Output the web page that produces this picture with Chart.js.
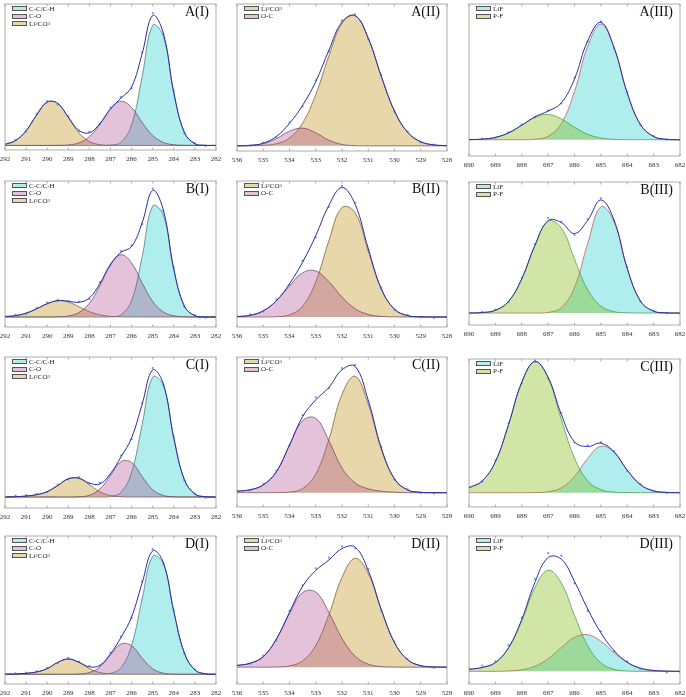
<!DOCTYPE html>
<html>
<head>
<meta charset="utf-8">
<script src="https://cdn.jsdelivr.net/npm/chart.js@4.4.0/dist/chart.umd.min.js"></script>
<style>
  body { margin: 0; background: #fff; width: 686px; height: 697px; position: relative; overflow: hidden;
         font-family: "Liberation Serif", "Times New Roman", serif; }
  canvas { position: absolute; }
  .legend { position: absolute; font-size: 7px; color: #222; }
  .legend .row { display: flex; align-items: center; height: 7.6px; white-space: nowrap; }
  .legend .sw { width: 15px; height: 5px; border: 0.6px solid #555; margin-right: 2px; box-sizing: border-box; }
  .legend sub { font-size: 5px; vertical-align: -1.5px; line-height: 0; }
  .tag { position: absolute; font-size: 14px; color: #111; white-space: nowrap; }
</style>
</head>
<body>
<script>
/* ENERGY GRIDS (eV) */
const eC = [292,291.5,291,290.5,290,289.5,289,288.5,288,287.5,287,286.5,286,285.5,285,284.5,284,283.5,283,282.5,282];
const eO = [536,535.5,535,534.5,534,533.5,533,532.5,532,531.5,531,530.5,530,529.5,529,528.5,528];
const eF = [690,689.5,689,688.5,688,687.5,687,686.5,686,685.5,685,684.5,684,683.5,683,682.5,682];

/* A(I) C 1s */
const aI_CC  = [0,0,0,0,0,0,0,0,0,0,0.3,3.3,21.1,70.7,123.4,112.6,53.7,13.4,1.7,0.1,0];
const aI_CO  = [0,0,0,0,0,0.1,0.5,2.6,9.0,21.7,37.3,45.3,38.9,23.6,10.2,3.1,0.7,0.1,0,0,0];
const aI_Li  = [1.1,5.0,15.1,31.3,44.5,43.1,28.6,12.9,4.0,0.8,0.1,0,0,0,0,0,0,0,0,0,0];
const aI_env = [1.1,5.0,15.1,31.3,44.5,43.2,29.1,15.5,13.0,22.5,37.7,48.6,60.0,94.3,133.6,115.7,54.4,13.5,1.7,0.1,0];
const aI_dat = [0.4,5.6,14.2,32.5,45.6,42.1,30.0,14.8,13.9,21.6,38.9,49.8,58.6,95.7,135.9,114.6,55.8,12.4,2.5,-0.6,-0.3];

/* A(II) O 1s */
const aII_Li  = [0,0.1,0.5,2.2,8.1,23.4,52.7,92.3,125.8,133.6,110.5,71.1,35.7,13.9,4.2,1.0,0.2];
const aII_OC  = [0,0.4,2.2,7.4,15.0,18.2,13.3,5.8,1.5,0.2,0,0,0,0,0,0,0];
const aII_env = [0,0.5,2.7,9.6,23.1,41.6,66.0,98.1,127.3,133.8,110.5,71.1,35.7,13.9,4.2,1.0,0.2];
const aII_dat = [0.6,0.2,3.4,9.1,24.0,40.5,67.2,97.0,128.9,135.1,109.6,72.3,34.8,14.6,3.5,1.4,-0.4];

/* A(III) F 1s */
const aIII_LiF = [0,0,0,0,0,0.5,3.5,16.5,49.6,95.9,118.7,94.2,47.9,15.6,3.3,0.4,0];
const aIII_PF  = [0.1,0.6,2.4,7.0,14.9,23.0,25.9,21.3,12.8,5.6,1.8,0.4,0.1,0,0,0,0];
const aIII_env = [0.1,0.6,2.4,7.0,14.9,23.5,29.4,37.8,62.4,101.5,120.5,94.6,48.0,15.6,3.3,0.4,0];
const aIII_dat = [0.3,1.1,2.0,7.8,15.6,22.9,30.2,37.1,63.5,100.8,121.4,93.9,48.7,15.0,3.8,0.1,-0.2];

/* B(I) */
const bI_CC  = [0,0,0,0,0,0,0,0,0,0,0.2,2.3,16.8,61.9,114.1,105.0,48.2,11.1,1.3,0.1,0];
const bI_CO  = [0,0,0,0,0,0.2,1.0,4.5,14.1,32.3,53.4,64.0,55.5,34.9,15.9,5.2,1.2,0.2,0,0,0];
const bI_Li  = [0.4,1.4,3.9,8.4,13.6,16.6,15.3,10.6,5.5,2.2,0.6,0.1,0,0,0,0,0,0,0,0,0];
const bI_env = [0.4,1.4,3.9,8.4,13.6,16.8,16.3,15.1,19.6,34.5,54.2,66.4,72.3,96.8,130.0,110.2,49.4,11.3,1.3,0.1,0];
const bI_dat = [0.9,2.3,3.1,9.5,14.7,17.6,16.0,15.9,18.4,35.8,53.1,68.0,73.5,95.6,131.8,109.1,50.6,10.4,2.0,-0.8,-0.5];

/* B(II) */
const bII_Li  = [0,0,0,0.3,2.2,11.0,36.2,78.4,112.6,107.2,67.7,28.3,7.9,1.4,0.2,0,0];
const bII_OC  = [0.4,1.7,6.3,16.5,31.9,45.4,47.3,36.3,20.4,8.5,2.6,0.6,0.1,0,0,0,0];
const bII_env = [0.4,1.7,6.3,16.8,34.1,56.4,83.5,114.7,133.0,115.7,70.3,28.9,8.0,1.4,0.2,0,0];
const bII_dat = [1.2,2.6,5.5,17.9,33.0,57.8,82.1,113.2,134.6,117.3,69.0,29.8,7.1,1.9,-0.5,-0.9,-0.2];

/* B(III) */
const bIII_LiF = [0,0,0,0,0,0,0.6,5.5,26.3,71.4,109.2,94.0,45.6,12.4,1.9,0.2,0];
const bIII_PF  = [0,0.5,2.8,12.0,35.1,69.6,94.4,87.5,55.4,23.9,7.1,1.4,0.2,0,0,0,0];
const bIII_env = [0,0.5,2.8,12.0,35.1,69.6,95.0,93.0,81.7,95.3,116.3,95.4,45.8,12.4,1.9,0.2,0];
const bIII_dat = [-0.8,1.2,3.5,11.2,36.0,70.8,97.9,94.1,80.2,96.4,118.0,94.5,46.9,11.8,2.4,-0.3,-0.6];

/* C(I) */
const cI_CC  = [0,0,0,0,0,0,0,0,0,0,0.5,4.8,25.2,74.3,123.1,114.9,60.4,17.9,3.0,0.3,0];
const cI_CO  = [0,0,0,0,0,0,0,0.2,1.8,8.2,22.2,36.3,35.5,20.9,7.4,1.6,0.2,0,0,0,0];
const cI_Li  = [0,0.3,1.0,2.4,5.5,11.8,18.7,19.1,12.5,5.2,1.4,0.2,0,0,0,0,0,0,0,0,0];
const cI_env = [0,0.3,1.0,2.4,5.5,11.8,18.7,19.3,14.3,13.4,24.1,41.3,60.7,95.2,130.5,116.5,60.6,17.9,3.0,0.3,0];
const cI_dat = [0.6,1.4,1.9,3.3,5.0,12.7,18.1,20.4,13.6,14.5,23.2,42.6,59.5,96.4,132.3,115.4,61.5,17.0,3.6,-0.9,-0.4];

/* C(II) */
const cII_Li  = [0,0,0,0.1,0.6,4.2,19.0,54.7,101.0,119.6,90.8,44.2,13.8,2.8,0.4,0,0];
const cII_OC  = [1.5,3.0,8.0,21.5,48.5,73.9,76.3,53.3,25.2,10.0,4.0,1.5,0.5,0,0,0,0];
const cII_env = [1.5,3.0,8.0,21.6,49.1,78.1,95.3,108.0,126.2,129.6,94.8,45.7,14.3,2.8,0.4,0,0];
const cII_dat = [2.3,2.4,9.1,22.5,48.0,79.6,97.8,107.1,127.9,131.0,93.6,46.9,13.5,3.3,-0.3,-0.8,-0.5];

/* C(III) */
const cIII_LiF = [0,0,0,0,0,0.1,1.0,5.0,16.7,35.2,47.7,41.3,23.0,8.2,1.9,0.3,0];
const cIII_PF  = [5.0,12.0,31.8,70.0,113.3,134.6,117.6,75.3,35.5,12.2,3.1,0.6,0.1,0,0,0,0];
const cIII_env = [5.0,12.0,31.8,70.0,113.3,134.7,118.6,80.3,52.2,47.4,50.8,41.9,23.1,8.2,1.9,0.3,0];
const cIII_dat = [5.9,11.1,33.0,71.2,112.5,135.8,117.4,81.6,51.3,48.5,51.9,42.8,22.2,8.9,1.2,-0.4,-0.7];

/* D(I) */
const dI_CC  = [0,0,0,0,0,0,0,0,0,0,0.9,6.8,29.7,77.3,121.2,114.0,64.4,21.9,4.4,0.5,0];
const dI_CO  = [0,0,0,0,0,0,0,0.2,1.8,7.6,19.9,31.1,29.3,16.5,5.6,1.1,0.1,0,0,0,0];
const dI_Li  = [0,0.3,1.0,2.4,5.8,12.2,15.7,12.2,5.8,1.7,0.3,0,0,0,0,0,0,0,0,0,0];
const dI_env = [0,0.3,1.0,2.4,5.8,12.2,15.7,12.4,7.6,9.3,21.1,37.9,59.0,93.8,126.8,115.1,64.5,21.9,4.4,0.5,0];
const dI_dat = [0.5,0.9,1.6,3.1,6.6,11.4,16.9,13.0,8.5,8.7,22.0,38.8,57.9,95.0,128.5,114.2,65.6,21.0,5.0,0.3,-0.5];

/* D(II) */
const dII_Li  = [0,0,0,0.2,1.3,6.5,22.2,53.8,92.2,111.9,96.1,58.4,25.1,7.6,1.6,0.2,0];
const dII_OC  = [1.7,4.0,10.8,28.7,55.1,76.6,77.1,56.2,29.6,11.3,3.1,0.6,0.1,0,0,0,0];
const dII_env = [1.7,4.0,10.8,28.9,56.4,83.1,99.3,110.0,121.8,123.2,99.2,59.0,25.2,7.6,1.6,0.2,0];
const dII_dat = [2.5,3.2,11.9,27.6,57.8,84.0,101.5,112.4,124.0,122.1,100.6,57.7,26.3,8.4,1.0,-0.7,-0.4];

/* D(III) */
const dIII_LiF = [0,0,0,0.4,1.6,5.2,13.0,24.5,34.9,37.7,30.9,19.2,9.0,3.2,0.9,0.2,0];
const dIII_PF  = [2.0,4.0,9.0,24.0,51.7,86.1,103.9,90.7,57.4,26.3,8.7,2.1,0.4,0,0,0,0];
const dIII_env = [2.0,4.0,9.0,24.4,53.3,91.3,116.9,115.2,92.3,64.0,39.6,21.3,9.4,3.2,0.9,0.2,0];
const dIII_dat = [3.4,5.9,10.2,27.0,55.1,95.0,121.5,118.8,90.4,62.1,41.0,20.5,10.3,2.4,0.2,-1.0,-0.8];

/* STYLES */
const CYAN = { fill: "rgba(35,206,206,0.36)", line: "#3f6d6d" };
const PINK = { fill: "rgba(170,66,140,0.32)", line: "#6a3d58" };
const TAN  = { fill: "rgba(204,167,66,0.45)", line: "#6b5523" };
const LIF  = { fill: "rgba(35,206,206,0.36)", line: "#b84c4c" };
const PF   = { fill: "rgba(120,180,0,0.35)", line: "#3a9a3a" };

const KINDS = {
  C: { e: eC, range: [282, 292], comps: [
      { label: "C-C/C-H", st: CYAN, order: 4 },
      { label: "C-O", st: PINK, order: 2 },
      { label: "Li2CO3", st: TAN, order: 3 } ] },
  O: { e: eO, range: [528, 536], comps: [
      { label: "Li2CO3", st: TAN, order: 3 },
      { label: "O-C", st: PINK, order: 2 } ] },
  F: { e: eF, range: [682, 690], comps: [
      { label: "LiF", st: LIF, order: 3 },
      { label: "P-F", st: PF, order: 2 } ] },
};

/* PANELS: frame box [left, top, right, bottom] in page px */
const panels = [
  { tag: "A(I)",   kind: "C", box: [5, 0, 216, 150],     y: [-4.7, 145.3],  s: [aI_CC, aI_CO, aI_Li], env: aI_env, dat: aI_dat },
  { tag: "A(II)",  kind: "O", box: [237, 0, 447, 151],   y: [-5.3, 145.7],  s: [aII_Li, aII_OC], env: aII_env, dat: aII_dat },
  { tag: "A(III)", kind: "F", box: [469, 0, 680, 156],   y: [-16.7, 139.3], s: [aIII_LiF, aIII_PF], env: aIII_env, dat: aIII_dat },
  { tag: "B(I)",   kind: "C", box: [5, 177, 216, 327],   y: [-10.3, 139.7], s: [bI_CC, bI_CO, bI_Li], env: bI_env, dat: bI_dat },
  { tag: "B(II)",  kind: "O", box: [237, 177, 447, 327], y: [-10.3, 139.7], s: [bII_Li, bII_OC], env: bII_env, dat: bII_dat },
  { tag: "B(III)", kind: "F", box: [469, 178, 680, 325], y: [-12.3, 134.7], s: [bIII_LiF, bIII_PF], env: bIII_env, dat: bIII_dat },
  { tag: "C(I)",   kind: "C", box: [5, 353, 216, 508],   y: [-11.3, 143.7], s: [cI_CC, cI_CO, cI_Li], env: cI_env, dat: cI_dat },
  { tag: "C(II)",  kind: "O", box: [237, 353, 447, 507], y: [-14.7, 139.3], s: [cII_Li, cII_OC], env: cII_env, dat: cII_dat },
  { tag: "C(III)", kind: "F", box: [469, 355, 680, 507], y: [-14.7, 137.3], s: [cIII_LiF, cIII_PF], env: cIII_env, dat: cIII_dat },
  { tag: "D(I)",   kind: "C", box: [5, 532, 216, 684],   y: [-10, 142],     s: [dI_CC, dI_CO, dI_Li], env: dI_env, dat: dI_dat },
  { tag: "D(II)",  kind: "O", box: [237, 532, 447, 684], y: [-17.3, 134.7], s: [dII_Li, dII_OC], env: dII_env, dat: dII_dat },
  { tag: "D(III)", kind: "F", box: [469, 532, 680, 684], y: [-13, 139],     s: [dIII_LiF, dIII_PF], env: dIII_env, dat: dIII_dat },
];

const PADX = 12, AXIS_H = 16;

/* frame + inward ticks */
const framePlugin = {
  id: "frame",
  afterDraw(c) {
    const { ctx, chartArea: a } = c;
    const x = c.scales.x;
    ctx.save();
    ctx.strokeStyle = "#9a9a9a";
    ctx.lineWidth = 0.8;
    ctx.strokeRect(a.left, a.top, a.right - a.left, a.bottom - a.top);
    ctx.beginPath();
    x.ticks.forEach((t) => {
      const px = x.getPixelForValue(t.value);
      ctx.moveTo(px, a.bottom); ctx.lineTo(px, a.bottom - 2.5);
      ctx.moveTo(px, a.top); ctx.lineTo(px, a.top + 2.5);
    });
    ctx.stroke();
    ctx.restore();
  },
};

const pts = (e, v) => v.map((y, i) => ({ x: e[i], y }));
const subs = (s) => s.replace(/(\d)/g, "<sub>$1</sub>");

function drawPanel(p) {
  const k = KINDS[p.kind];
  const [L, T, R, B] = p.box;
  const cv = document.createElement("canvas");
  cv.width = R - L + 2 * PADX;
  cv.height = B - T + AXIS_H;
  cv.style.left = (L - PADX) + "px";
  cv.style.top = T + "px";
  document.body.appendChild(cv);

  const datasets = k.comps.map((c, i) => ({
    label: c.label,
    data: pts(k.e, p.s[i]),
    borderColor: c.st.line,
    backgroundColor: c.st.fill,
    borderWidth: 0.7,
    fill: "origin",
    order: c.order,
  }));
  datasets.push({
    label: "data", data: pts(k.e, p.dat), showLine: false,
    pointRadius: 1.1, pointBackgroundColor: "#4aa3f2", pointBorderWidth: 0, order: 1,
  });
  datasets.push({
    label: "envelope", data: pts(k.e, p.env), borderColor: "#2b2ba6",
    borderWidth: 1.0, fill: false, order: 0,
  });

  new Chart(cv, {
    type: "line",
    data: { datasets },
    options: {
      responsive: false,
      animation: false,
      devicePixelRatio: 1,
      layout: { padding: { left: PADX, right: PADX, top: 0, bottom: 0 } },
      plugins: { legend: { display: false }, tooltip: { enabled: false } },
      elements: { point: { radius: 0 }, line: { tension: 0.4 } },
      scales: {
        x: {
          type: "linear", reverse: true, min: k.range[0], max: k.range[1],
          afterFit(s) { s.height = AXIS_H; },
          grid: { display: false, drawTicks: false },
          border: { display: false },
          ticks: {
            stepSize: 1, autoSkip: false, maxRotation: 0, padding: 5, color: "#333",
            font: { family: "Liberation Serif", size: 7 },
            callback: (v) => String(v),
          },
        },
        y: { display: false, min: p.y[0], max: p.y[1] },
      },
    },
    plugins: [framePlugin],
  });

  // legend
  const lg = document.createElement("div");
  lg.className = "legend";
  lg.style.left = (L + 7) + "px";
  lg.style.top = (T + 5) + "px";
  lg.innerHTML = k.comps.map((c) =>
    `<div class="row"><span class="sw" style="background:${c.st.fill}"></span>${subs(c.label)}</div>`
  ).join("");
  document.body.appendChild(lg);

  // panel tag
  const tg = document.createElement("div");
  tg.className = "tag";
  tg.textContent = p.tag;
  tg.style.right = (686 - R + 7) + "px";
  tg.style.top = (T + 4) + "px";
  document.body.appendChild(tg);
}

panels.forEach(drawPanel);
</script>
</body>
</html>
